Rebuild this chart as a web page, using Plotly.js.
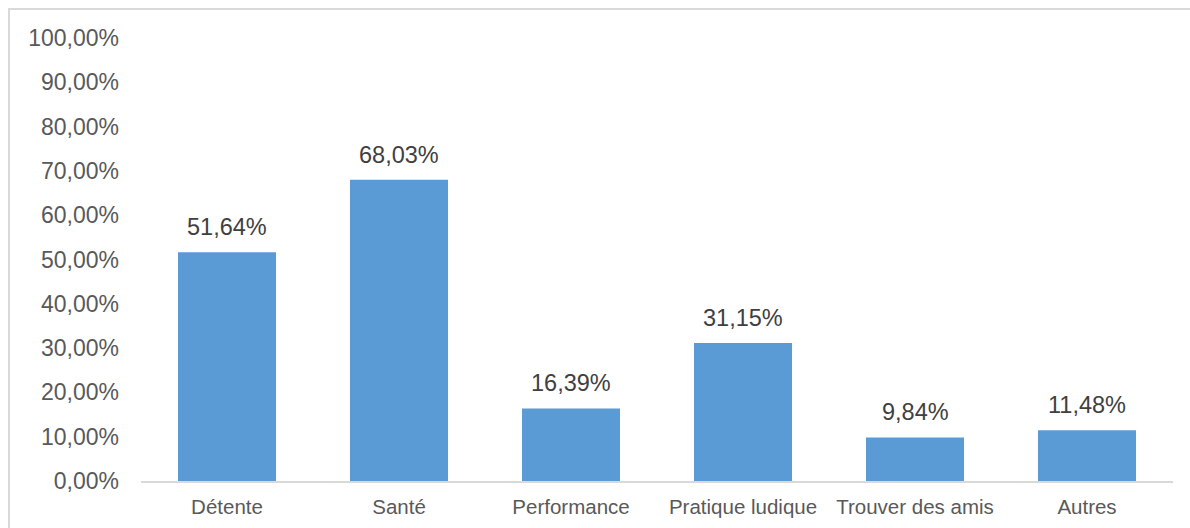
<!DOCTYPE html>
<html>
<head>
<meta charset="utf-8">
<script src="https://cdn.plot.ly/plotly-3.0.1.min.js"></script>
<style>
html,body{margin:0;padding:0;background:#fff;}
#frame{position:absolute;left:8px;top:8px;width:1190px;height:528px;border-top:2px solid #d9d9d9;border-left:2px solid #d9d9d9;box-sizing:border-box;}
#chart{position:absolute;left:0;top:0;width:1190px;height:528px;}
</style>
</head>
<body>
<div id="frame"></div>
<div id="chart"></div>
<script>
const categories = ["Détente", "Santé", "Performance", "Pratique ludique", "Trouver des amis", "Autres"];
const values = [51.64, 68.03, 16.39, 31.15, 9.84, 11.48];
const yTicks = [0, 10, 20, 30, 40, 50, 60, 70, 80, 90, 100];
const yTickLabels = ["0,00%", "10,00%", "20,00%", "30,00%", "40,00%", "50,00%", "60,00%", "70,00%", "80,00%", "90,00%", "100,00%"];

const FONT = "Liberation Sans, Arial, sans-serif";

const trace = {
  type: "bar",
  x: categories,
  y: values,
  marker: {color: "#5b9bd5"},
  hoverinfo: "none"
};

const annotations = categories.map((c, i) => ({
  x: c,
  y: values[i],
  xref: "x",
  yref: "y",
  text: values[i].toFixed(2).replace(".", ",") + "%",
  showarrow: false,
  yanchor: "bottom",
  yshift: 10,
  font: {family: FONT, size: 23.5, color: "#404040"}
}));

const layout = {
  width: 1190,
  height: 528,
  margin: {l: 141, r: 17, t: 38, b: 47},
  paper_bgcolor: "rgba(0,0,0,0)",
  plot_bgcolor: "rgba(0,0,0,0)",
  bargap: 0.43,
  showlegend: false,
  font: {family: FONT, size: 20, color: "#595959"},
  annotations: annotations,
  xaxis: {
    showline: true,
    linecolor: "#d9d9d9",
    linewidth: 1.5,
    showgrid: false,
    zeroline: false,
    ticks: "",
    ticklabelstandoff: 7,
    tickfont: {family: FONT, size: 20.5, color: "#595959"},
    fixedrange: true
  },
  yaxis: {
    range: [0, 100],
    tickmode: "array",
    tickvals: yTicks,
    ticktext: yTickLabels,
    showgrid: false,
    zeroline: false,
    showline: false,
    ticks: "",
    ticklabelstandoff: 21,
    tickfont: {family: FONT, size: 23, color: "#595959"},
    fixedrange: true
  }
};

Plotly.newPlot("chart", [trace], layout, {staticPlot: true, displayModeBar: false});
</script>
</body>
</html>
